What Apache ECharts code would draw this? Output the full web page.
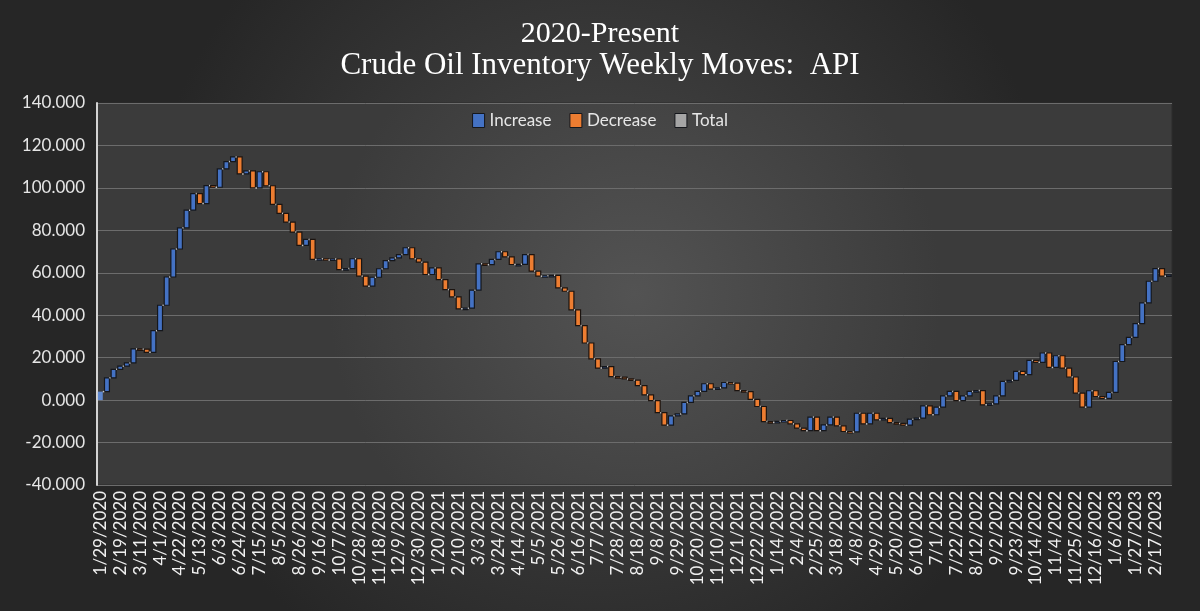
<!DOCTYPE html>
<html>
<head>
<meta charset="utf-8">
<script src="https://cdn.jsdelivr.net/npm/echarts@6/dist/echarts.min.js"></script>
<style>
  html, body { margin: 0; padding: 0; background: #2b2b2b; }
  #chart { width: 1200px; height: 611px; }
</style>
</head>
<body>
<div id="chart"></div>
<script>
// weekly inventory level (cumulative API moves since 1/29/2020)
const levels = [
  4, 10.5, 14.5, 16, 17.5, 24.1, 24, 22.5, 32.7, 44.7,
  58, 71.2, 81.2, 89.5, 97.3, 92.6, 101.1, 100.3, 109, 112.4,
  114.6, 106.6, 108, 100, 107.6, 101, 92.2, 88, 83.9, 79.2,
  72.9, 75.7, 66.3, 66.6, 66, 66.5, 61.5, 62, 66.6, 58.4,
  53.7, 57.9, 61.9, 65.7, 67, 68.6, 71.8, 66.6, 65, 59.2,
  62.3, 56.8, 52.1, 48.6, 43, 43.3, 51.8, 64.2, 63.8, 66.3,
  69.9, 67.5, 63.9, 64, 68.6, 60.8, 58.4, 58.6, 58.8, 52.9,
  51.3, 42.5, 35.1, 26.9, 19.4, 15.1, 15.8, 11.1, 10.8, 10,
  9.4, 6.8, 2.5, -0.2, -5.9, -11.8, -7.4, -6.5, -1.1, 2,
  4.1, 7.7, 5.2, 5.8, 8.3, 8, 4.5, 4, 0.3, -3,
  -10.1, -10.5, -10, -9.6, -11.2, -13.2, -14.4, -8, -14.4, -11.7,
  -8, -12.1, -14.8, -15, -6.2, -11.2, -6.2, -9.3, -8.6, -10.6,
  -11, -11.8, -9, -8.5, -2.7, -6.9, -3.3, 2, 4.1, -0.2,
  2, 4.1, 4.5, -2.2, -1.8, 2, 8.8, 9.3, 13.5, 12,
  18.7, 17.8, 22.2, 15.4, 20.9, 15.1, 10.9, 3.3, -3.3, 4.4,
  1.7, 0.8, 3.6, 18.2, 26.1, 29.6, 36, 45.8, 56, 62,
  58.4, 59
]

// release dates: Wednesdays through 2021, Fridays from January 2022
const dateRuns = [
  { start: '2020-01-29', weeks: 101 },
  { start: '2022-01-07', weeks: 61 }
]
const weeks = []
dateRuns.forEach(run => {
  const t0 = new Date(run.start + 'T12:00:00Z').getTime()
  for (let k = 0; k < run.weeks; k++) {
    const d = new Date(t0 + k * 7 * 864e5)
    weeks.push((d.getUTCMonth() + 1) + '/' + d.getUTCDate() + '/' + d.getUTCFullYear())
  }
})

const yMin = -40
const yMax = 140
const yStep = 20

const colors = { up: '#4472c4', down: '#ed7d31', total: '#a5a5a5', first: '#5f88cf' }

// split the steps into the three legend groups: [index, from, to]
const upRows = []
const downRows = []
const totalRows = []
levels.forEach((v, i) => {
  if (i === 0) totalRows.push([i, 0, v])
  else if (v >= levels[i - 1]) upRows.push([i, levels[i - 1], v])
  else downRows.push([i, levels[i - 1], v])
})

function makeRender(fill, stroke) {
  return function (params, api) {
    const i = api.value(0)
    const from = api.value(1)
    const to = api.value(2)
    const w = api.size([1, 0])[0] * 0.74
    const a = api.coord([i, from])
    const b = api.coord([i, to])
    const top = Math.min(a[1], b[1])
    const h = Math.max(Math.abs(a[1] - b[1]), 1.5)
    const children = [{
      type: 'rect',
      shape: { x: a[0] - w / 2, y: top, width: w, height: h },
      style: { fill: fill, stroke: stroke, lineWidth: 1.2 }
    }]
    if (i < levels.length - 1) {
      const n = api.coord([i + 1, to])
      children.push({
        type: 'line',
        shape: { x1: a[0] + w / 2, y1: b[1], x2: n[0] - w / 2, y2: b[1] },
        style: { stroke: '#c9c9c9', lineWidth: 1.5, lineDash: [1.5, 2] }
      })
    }
    return { type: 'group', children: children }
  }
}

const chart = echarts.init(document.getElementById('chart'))

chart.setOption({
  backgroundColor: new echarts.graphic.RadialGradient(0.5, 0.45, 0.75, [
    { offset: 0, color: '#4a4a4a' },
    { offset: 1, color: '#262626' }
  ]),
  animation: false,
  title: {
    text: '{a|2020-Present}\n{b|Crude Oil Inventory Weekly Moves:  API}',
    left: 'center',
    top: 14,
    textStyle: {
      fontWeight: 'normal',
      rich: {
        a: { fontFamily: 'Liberation Serif', fontSize: 30, fontWeight: 'normal', lineHeight: 31, color: '#ffffff', align: 'center' },
        b: { fontFamily: 'Liberation Serif', fontSize: 31, fontWeight: 'normal', lineHeight: 31, color: '#ffffff', align: 'center' }
      }
    }
  },
  legend: {
    top: 107,
    left: 'center',
    icon: 'rect',
    itemWidth: 12,
    itemHeight: 14,
    itemGap: 18,
    data: ['Increase', 'Decrease', 'Total'],
    itemStyle: { borderColor: '#15171c', borderWidth: 1 },
    textStyle: { color: '#e6e6e6', fontSize: 17, fontFamily: 'Lato' }
  },
  grid: {
    left: 97,
    right: 28,
    top: 103,
    bottom: 126,
    show: true,
    borderColor: '#2c2c2c',
    borderWidth: 1,
    backgroundColor: new echarts.graphic.RadialGradient(0.5, 0.5, 0.8, [
      { offset: 0, color: '#535353' },
      { offset: 1, color: '#3b3b3b' }
    ])
  },
  xAxis: {
    type: 'category',
    data: weeks,
    axisLine: { show: false },
    axisTick: { show: false },
    axisLabel: {
      interval: 2,
      rotate: 90,
      color: '#f0f0f0',
      fontSize: 17,
      fontFamily: 'Lato',
      margin: 6
    }
  },
  yAxis: {
    type: 'value',
    min: yMin,
    max: yMax,
    interval: yStep,
    axisLine: { show: true, lineStyle: { color: '#d4d4d4', width: 2 } },
    axisTick: { show: false },
    splitLine: { lineStyle: { color: '#6c6c6c', width: 1 } },
    axisLabel: {
      color: '#e6e6e6',
      fontSize: 17,
      fontFamily: 'Lato',
      margin: 12,
      formatter: v => v.toFixed(3)
    }
  },
  series: [
    {
      name: 'Increase',
      type: 'custom',
      itemStyle: { color: colors.up },
      encode: { x: 0, y: [1, 2] },
      renderItem: makeRender(colors.up, '#15171c'),
      data: upRows
    },
    {
      name: 'Decrease',
      type: 'custom',
      itemStyle: { color: colors.down },
      encode: { x: 0, y: [1, 2] },
      renderItem: makeRender(colors.down, '#1c1410'),
      data: downRows
    },
    {
      name: 'Total',
      type: 'custom',
      itemStyle: { color: colors.total },
      encode: { x: 0, y: [1, 2] },
      renderItem: makeRender(colors.first, 'rgba(0,0,0,0)'),
      data: totalRows
    }
  ]
})
</script>
</body>
</html>
